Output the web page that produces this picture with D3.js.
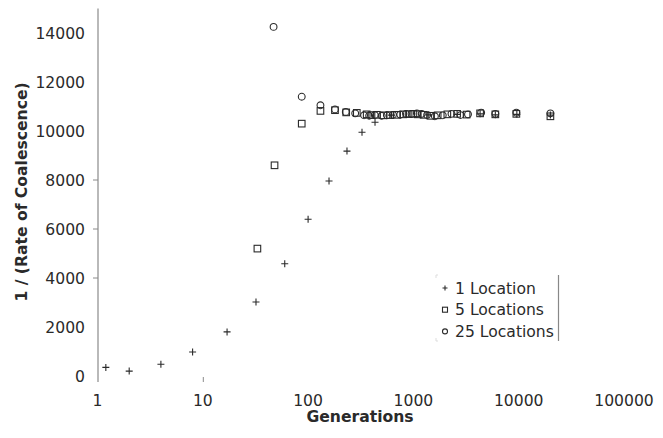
<!DOCTYPE html>
<html><head><meta charset="utf-8">
<script src="https://cdn.jsdelivr.net/npm/d3@7"></script>
<style>
html,body{margin:0;padding:0;background:#fff;}
svg{display:block;font-family:"DejaVu Sans",Verdana,sans-serif;}
</style></head>
<body><svg id="c" width="663" height="438"></svg>
<script>
// ---- data ----
const oneGen = [1.2, 2, 4, 8, 17, 32, 60, 100, 158, 234, 325, 432, 620, 1400, 2600, 4300, 6000, 9600, 20000];
const oneVal = [350, 200, 480, 980, 1800, 3020, 4580, 6400, 7960, 9180, 9950, 10360, 10650, 10660, 10680, 10700, 10660, 10680, 10650];

const fiveGen = [33, 48, 87, 131, 180, 230, 290, 360, 400, 450, 520, 600, 700, 800, 900, 1000, 1100, 1250, 1450, 1700, 2100, 2600, 3200, 4300, 6000, 9500, 20000];
const fiveVal = [5200, 8600, 10300, 10820, 10850, 10760, 10740, 10680, 10650, 10660, 10640, 10650, 10660, 10680, 10690, 10700, 10680, 10660, 10620, 10640, 10680, 10700, 10670, 10720, 10680, 10700, 10600];

const twentyFiveGen = [47, 87, 131, 180, 228, 280, 340, 380, 430, 500, 560, 640, 750, 850, 960, 1080, 1200, 1350, 1600, 1900, 2300, 2800, 3300, 4400, 6000, 9500, 20000];
const twentyFiveVal = [14250, 11400, 11050, 10880, 10780, 10720, 10640, 10620, 10650, 10620, 10640, 10660, 10670, 10700, 10700, 10720, 10700, 10650, 10600, 10640, 10700, 10650, 10680, 10750, 10700, 10750, 10720];

const xTicks = [1, 10, 100, 1000, 10000, 100000];
const xTickLabels = ["1", "10", "100", "1000", "10000", "100000"];
const yTicks = [0, 2000, 4000, 6000, 8000, 10000, 12000, 14000];
const yTickMarks = [4000, 6000, 8000];
const xTickMarks = [10];
const seriesNames = ["1 Location", "5 Locations", "25 Locations"];

// ---- chart ----
const svg = d3.select("#c");
const x = d3.scaleLog().domain([1, 100000]).range([97.5, 624]);
const y = d3.scaleLinear().domain([0, 15000]).range([376, 8.5]);
const ink = "#2a2a2a";
const axisCol = "#8a8a8a";
const fs = 15.6;

// y axis line
svg.append("line").attr("x1", 98).attr("x2", 98).attr("y1", y(15000)).attr("y2", 382)
  .attr("stroke", axisCol).attr("stroke-width", 1.2);

// y tick labels
svg.append("g").selectAll("text").data(yTicks).join("text")
  .attr("x", 85).attr("y", d => y(d) + 5.7)
  .attr("text-anchor", "end").attr("font-size", fs).attr("fill", ink)
  .text(d => d);
svg.append("g").selectAll("line").data(yTickMarks).join("line")
  .attr("x1", 93).attr("x2", 98).attr("y1", d => y(d)).attr("y2", d => y(d))
  .attr("stroke", axisCol).attr("stroke-width", 1);

// x tick labels
svg.append("g").selectAll("text").data(xTicks).join("text")
  .attr("x", d => x(d)).attr("y", 405.5)
  .attr("text-anchor", "middle").attr("font-size", fs).attr("fill", ink)
  .text((d, i) => xTickLabels[i]);
svg.append("g").selectAll("line").data(xTickMarks).join("line")
  .attr("x1", d => x(d) + 0.5).attr("x2", d => x(d) + 0.5).attr("y1", 377).attr("y2", 382)
  .attr("stroke", axisCol).attr("stroke-width", 1);

// axis titles
svg.append("text").attr("x", 360).attr("y", 422).attr("text-anchor", "middle")
  .attr("font-size", fs).attr("font-weight", "bold").attr("fill", ink).text("Generations");
svg.append("text").attr("transform", "translate(27,192) rotate(-90)").attr("text-anchor", "middle")
  .attr("font-size", fs).attr("font-weight", "bold").attr("fill", ink).text("1 / (Rate of Coalescence)");

// markers
function plus(g, s) { g.append("path").attr("d", `M${-s},0H${s}M0,${-s}V${s}`).attr("stroke", ink).attr("stroke-width", 1.1).attr("fill", "none"); }
function square(g, s) { g.append("rect").attr("x", -s).attr("y", -s).attr("width", 2 * s).attr("height", 2 * s).attr("stroke", ink).attr("stroke-width", 1.1).attr("fill", "none"); }
function circle(g, s) { g.append("circle").attr("r", s).attr("stroke", ink).attr("stroke-width", 1.1).attr("fill", "none"); }

function drawSeries(gens, vals, fn, s) {
  const data = gens.map((g, i) => [g, vals[i]]);
  svg.append("g").selectAll("g").data(data).join("g")
    .attr("transform", d => `translate(${x(d[0])},${y(d[1])})`)
    .each(function () { fn(d3.select(this), s); });
}
drawSeries(fiveGen, fiveVal, square, 3.3);
drawSeries(twentyFiveGen, twentyFiveVal, circle, 3.4);
drawSeries(oneGen, oneVal, plus, 3.5);

// legend
const lg = svg.append("g");
lg.append("line").attr("x1", 558.5).attr("x2", 558.5).attr("y1", 275).attr("y2", 341).attr("stroke", "#888").attr("stroke-width", 1.2);
lg.append("path").attr("d", "M436,278V275H438M436,338V341H438").attr("stroke", "#ddd").attr("fill", "none");
const fns = [plus, square, circle];
seriesNames.forEach((n, i) => {
  const yy = 288 + i * 21.7;
  const g = lg.append("g").attr("transform", `translate(445,${yy})`);
  fns[i](g, 2.5);
  lg.append("text").attr("x", 455).attr("y", yy + 5.6).attr("font-size", fs).attr("fill", ink).text(n);
});
</script></body></html>
